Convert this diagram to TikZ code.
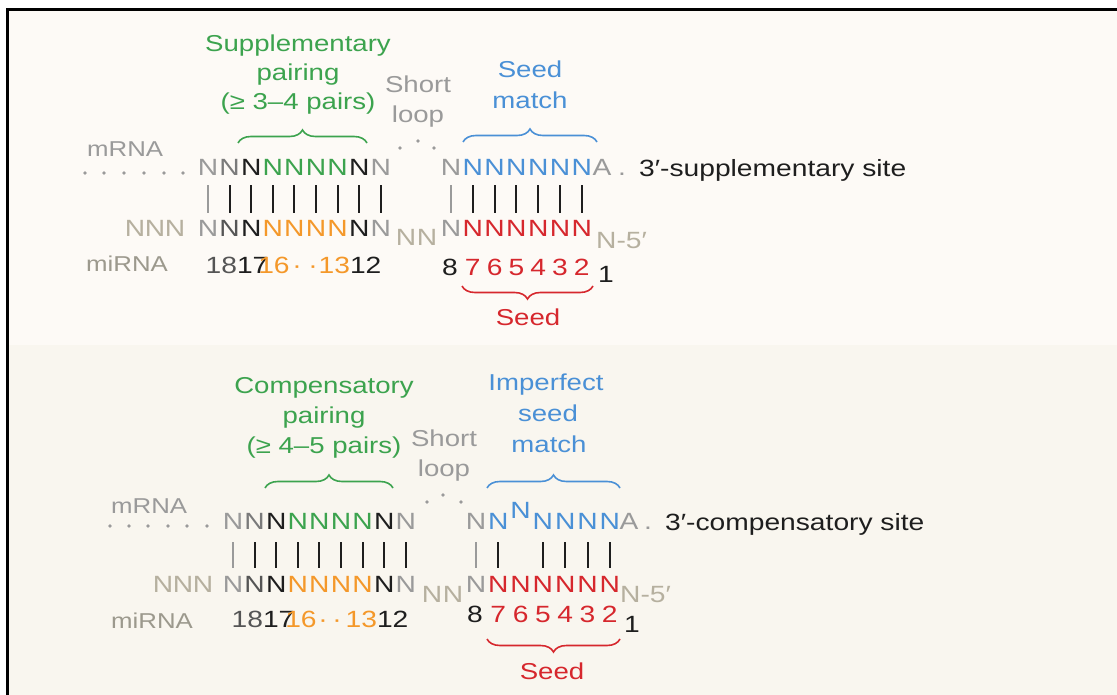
\documentclass[tikz,border=0pt]{standalone}
\usepackage{fontspec}
\setmainfont{Liberation Sans}[FakeStretch=1.2]
\usetikzlibrary{decorations.pathreplacing,calc}
\definecolor{bgA}{HTML}{FDFAF6}
\definecolor{bgB}{HTML}{F9F6EF}
\definecolor{cgreen}{HTML}{3CA34E}
\definecolor{cblue}{HTML}{4A90D6}
\definecolor{cred}{HTML}{D6272D}
\definecolor{corange}{HTML}{F4982A}
\definecolor{cgray}{HTML}{9A9A9A}
\definecolor{cmid}{HTML}{7A7A7A}
\definecolor{cdark}{HTML}{555555}
\definecolor{cbeige}{HTML}{B6B09F}
\definecolor{clab}{HTML}{9C998D}
\definecolor{cblack}{HTML}{1E1E1E}
\begin{document}
\begin{tikzpicture}[x=1pt,y=-1pt,
  nt/.style={inner sep=0pt, anchor=base, font=\fontsize{23.5}{28}\selectfont},
  lbl/.style={inner sep=0pt, anchor=base, font=\fontsize{23}{28}\selectfont},
  lblw/.style={inner sep=0pt, anchor=base west, font=\fontsize{21.5}{26}\selectfont},
  site/.style={inner sep=0pt, anchor=base west, font=\fontsize{23.5}{28}\selectfont, text=cblack},
  bar/.style={line width=2pt},
  brc/.style={decorate, decoration={brace, amplitude=13pt}, line width=1.6pt},
  dot/.style={circle, fill=cgray, inner sep=0pt, minimum size=3.6pt}]
\useasboundingbox (0,0) rectangle (1117,695);
\fill[white] (0,0) rectangle (1117,695);
\fill[bgA] (7,10) rectangle (1117,345);
\fill[bgB] (7,345) rectangle (1117,695);
\draw[line width=3pt] (7,700) -- (7,10) -- (1120,10);

% ================= TOP PANEL =================
\node[lbl, text=cgreen] (sa1) at (298,52) {Supplementary};
\node[lbl, text=cgreen] (sa2) at (298,81) {pairing};
\node[lbl, text=cgreen] (sa3) at (298,110) {(≥ 3–4 pairs)};
\node[lbl, text=cgray] (sl1) at (418,93) {Short};
\node[lbl, text=cgray] (sl2) at (418,123) {loop};
\node[lbl, text=cblue] (sm1) at (530,78) {Seed};
\node[lbl, text=cblue] (sm2) at (530,109) {match};
\draw[brc, cgreen] (238,143) -- (367,143);
\draw[brc, cblue] (463,142) -- (597,142);
\node[lblw, text=cgray] (tmlab) at (87,157) {mRNA};
\node[lblw, text=clab] (trlab) at (86,272) {miRNA};
\foreach \x [count=\i] in {85,104,124,144,164,183}
  \node[dot] (tld\i) at (\x,173) {};
\foreach \c [count=\i from 0] in {cgray,cmid,cblack,cgreen,cgreen,cgreen,cgreen,cblack,cgray}
  \node[nt, text=\c] (tm\i) at ({208+21.6*\i},176) {N};
\foreach \c [count=\i from 0] in {cgray,cdark,cblack,corange,corange,corange,corange,cblack,cgray}
  \node[nt, text=\c] (tr\i) at ({208+21.6*\i},237) {N};
\foreach \i/\c in {0/cgray,1/cblack,2/cblack,3/cblack,4/cblack,5/cblack,6/cblack,7/cblack,8/cblack}
  \draw[bar, \c] ($(tm\i.south)+(0,9)$) -- ($(tr\i.north)+(0,-8)$);
\foreach \x [count=\i] in {135,155,175}
  \node[nt, text=cbeige] (tb\i) at (\x,237) {N};
\node[nt, text=cbeige] (tl1) at (406,246) {N};
\node[nt, text=cbeige] (tl2) at (427,246) {N};
\node[dot] (tq1) at (400,148) {};
\node[dot] (tq2) at (418,141) {};
\node[dot] (tq3) at (434,148) {};
% right part
\foreach \c [count=\i from 0] in {cgray,cblue,cblue,cblue,cblue,cblue,cblue}
  \node[nt, text=\c] (tM\i) at ({451+21.8*\i},176) {N};
\node[nt, text=cgray] (tA) at (602,176) {A};
\node[nt, text=cgray] (tdot) at (622,176) {.};
\node[site] (tsite) at (639,177) {3′-supplementary site};
\foreach \c [count=\i from 0] in {cgray,cred,cred,cred,cred,cred,cred}
  \node[nt, text=\c] (tR\i) at ({451+21.8*\i},237) {N};
\foreach \i/\c in {0/cgray,1/cblack,2/cblack,3/cblack,4/cblack,5/cblack,6/cblack}
  \draw[bar, \c] ($(tM\i.south)+(0,9)$) -- ($(tR\i.north)+(0,-8)$);
\node[inner sep=0pt, anchor=base west, font=\fontsize{23.5}{28}\selectfont, text=cbeige] (t5p) at (596,249) {N-5′};
% numbers
\node[nt] (tn18) at (237,273) {{\color{cdark}18}{\color{cblack}17}};
\node[nt, text=corange] (tn16) at (274,273) {16};
\node[nt, text=corange] (tnd1) at (297,273) {·};
\node[nt, text=corange] (tnd2) at (313,273) {·};
\node[nt] (tn13) at (350,273) {{\color{corange}13}{\color{cblack}12}};
\node[nt, text=cblack] (tn8) at (450,276) {8};
\foreach \d [count=\i] in {7,6,5,4,3,2}
  \node[nt, text=cred] (tnr\i) at ({451+21.8*\i},276) {\d};
\node[nt, text=cblack] (tn1) at (606,283) {1};
\draw[brc, cred] (593,286) -- (462,286);
\node[lbl, text=cred] (tseed) at (528,325) {Seed};

% ================= BOTTOM PANEL =================
\node[lbl, text=cgreen] (ca1) at (324,393) {Compensatory};
\node[lbl, text=cgreen] (ca2) at (324,423) {pairing};
\node[lbl, text=cgreen] (ca3) at (324,453) {(≥ 4–5 pairs)};
\node[lbl, text=cgray] (cl1) at (444,446) {Short};
\node[lbl, text=cgray] (cl2) at (444,476) {loop};
\node[lbl, text=cblue] (cm1) at (546,390) {Imperfect};
\node[lbl, text=cblue] (cm2) at (548,421) {seed};
\node[lbl, text=cblue] (cm3) at (549,452) {match};
\draw[brc, cgreen] (265,488) -- (393,488);
\draw[brc, cblue] (487,488) -- (620,488);
\node[lblw, text=cgray] (bmlab) at (111,513) {mRNA};
\node[lblw, text=clab] (brlab) at (111,628) {miRNA};
\foreach \x [count=\i] in {110,129,148,168,187,207}
  \node[dot] (bld\i) at (\x,526) {};
\foreach \c [count=\i from 0] in {cgray,cmid,cblack,cgreen,cgreen,cgreen,cgreen,cblack,cgray}
  \node[nt, text=\c] (bm\i) at ({233+21.6*\i},529) {N};
\foreach \c [count=\i from 0] in {cgray,cdark,cblack,corange,corange,corange,corange,cblack,cgray}
  \node[nt, text=\c] (br\i) at ({233+21.6*\i},592) {N};
\foreach \i/\c in {0/cgray,1/cblack,2/cblack,3/cblack,4/cblack,5/cblack,6/cblack,7/cblack,8/cblack}
  \draw[bar, \c] ($(bm\i.south)+(0,13)$) -- ($(br\i.north)+(0,-8)$);
\foreach \x [count=\i] in {163,183,203}
  \node[nt, text=cbeige] (bb\i) at (\x,592) {N};
\node[nt, text=cbeige] (bl1) at (432,602) {N};
\node[nt, text=cbeige] (bl2) at (453,602) {N};
\node[dot] (bq1) at (427,502) {};
\node[dot] (bq2) at (443,495) {};
\node[dot] (bq3) at (461,502) {};
% right part
\node[nt, text=cgray] (bM0) at (476,529) {N};
\node[nt, text=cblue] (bM1) at (498.3,529) {N};
\node[nt, text=cblue] (bM2) at (520.6,518) {N};
\foreach \i in {3,4,5,6}
  \node[nt, text=cblue] (bM\i) at ({476+22.3*\i},529) {N};
\node[nt, text=cgray] (bA) at (629,529) {A};
\node[nt, text=cgray] (bdot) at (648,529) {.};
\node[site] (bsite) at (665,530) {3′-compensatory site};
\foreach \c [count=\i from 0] in {cgray,cred,cred,cred,cred,cred,cred}
  \node[nt, text=\c] (bR\i) at ({476+22.3*\i},592) {N};
\foreach \i/\c in {0/cgray,1/cblack,3/cblack,4/cblack,5/cblack,6/cblack}
  \draw[bar, \c] ($(bM\i.south)+(0,13)$) -- ($(bR\i.north)+(0,-8)$);
\node[inner sep=0pt, anchor=base west, font=\fontsize{23.5}{28}\selectfont, text=cbeige] (b5p) at (620,602) {N-5′};
% numbers
\node[nt] (bn18) at (263,627) {{\color{cdark}18}{\color{cblack}17}};
\node[nt, text=corange] (bn16) at (301,627) {16};
\node[nt, text=corange] (bnd1) at (323,627) {·};
\node[nt, text=corange] (bnd2) at (337,627) {·};
\node[nt] (bn13) at (377,627) {{\color{corange}13}{\color{cblack}12}};
\node[nt, text=cblack] (bn8) at (475,622) {8};
\foreach \d [count=\i] in {7,6,5,4,3,2}
  \node[nt, text=cred] (bnr\i) at ({476+22.3*\i},622) {\d};
\node[nt, text=cblack] (bn1) at (632,632) {1};
\draw[brc, cred] (620,639) -- (487,639);
\node[lbl, text=cred] (bseed) at (552,679) {Seed};
\end{tikzpicture}
\end{document}
